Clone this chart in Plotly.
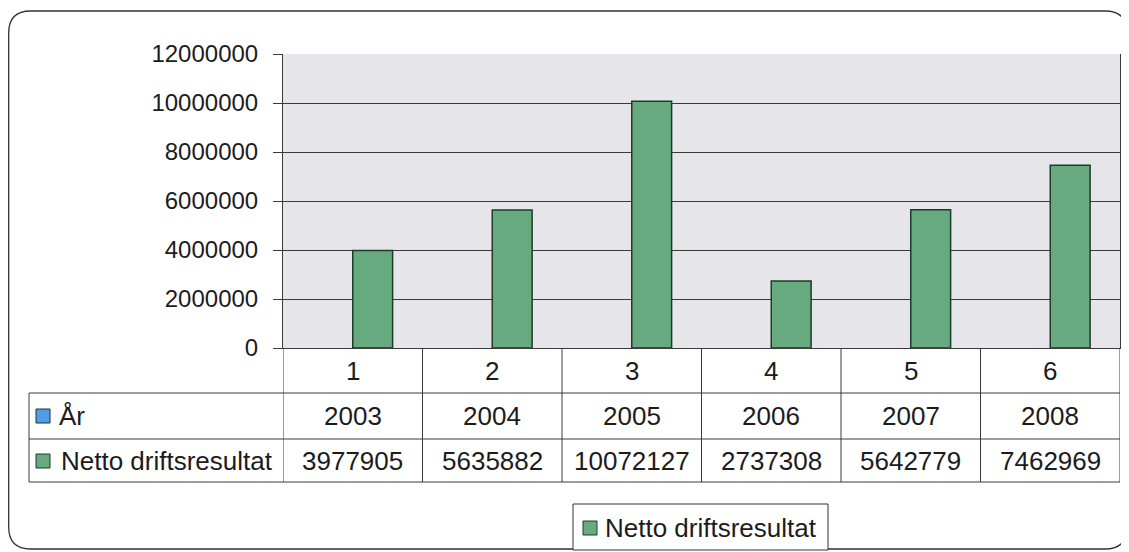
import plotly.graph_objects as go

# ---- data ----
categories = ["1", "2", "3", "4", "5", "6"]
years = [2003, 2004, 2005, 2006, 2007, 2008]
netto = [3977905, 5635882, 10072127, 2737308, 5642779, 7462969]
series_names = ["År", "Netto driftsresultat"]
y_ticks = [0, 2000000, 4000000, 6000000, 8000000, 10000000, 12000000]

# page has an 8px body margin, so the figure is drawn 8px in from the window corner
OFF = 8
W, H = 1129 - OFF, 552 - OFF
L, R, T, B = 283, 1120, 54, 348  # plot area in window pixels


def px(x):
    return (x - L) / (R - L)


def py(y):
    return (B - y) / (B - T)


FONT = "Liberation Sans, Arial, sans-serif"
INK = "#1c1c1c"
LINE = "#3a3a3a"
GREEN = "#67AA80"
GREEN_EDGE = "#1d3a2a"
BLUE = "#4F9FE6"

xs = list(range(1, len(categories) + 1))

fig = go.Figure()
fig.add_trace(go.Bar(x=xs, y=years, name=series_names[0], marker=dict(color=BLUE, line=dict(width=0)),
                     opacity=0, showlegend=False))
fig.add_trace(go.Bar(x=xs, y=netto, name=series_names[1], showlegend=False,
                     marker=dict(color=GREEN, line=dict(color=GREEN_EDGE, width=1.5))))

shapes = []
annotations = []

# outer rounded frame
fl, fr, ft, fb, r = 8.7, 1127, 11, 549, 22


def P(x, y):
    return f"{px(x):.5f},{py(y):.5f}"


path = (f"M {P(fl + r, ft)} L {P(fr - r, ft)} Q {P(fr, ft)} {P(fr, ft + r)} "
        f"L {P(fr, fb - r)} Q {P(fr, fb)} {P(fr - r, fb)} L {P(fl + r, fb)} "
        f"Q {P(fl, fb)} {P(fl, fb - r)} L {P(fl, ft + r)} Q {P(fl, ft)} {P(fl + r, ft)} Z")
shapes.append(dict(type="path", xref="paper", yref="paper", path=path, line=dict(color="#333333", width=1.3),
                   layer="below"))

row_top, row1, row2, row_bot = 348, 393, 439, 482
tbl_left = 29

for yy in (row1, row2, row_bot):
    shapes.append(dict(type="line", xref="paper", yref="paper", x0=px(tbl_left), x1=1, y0=py(yy), y1=py(yy),
                       line=dict(color=LINE, width=1)))
for k in range(len(categories) + 1):
    shapes.append(dict(type="line", xref="x", yref="paper", x0=k + 0.5, x1=k + 0.5, y0=py(row_top), y1=py(row_bot),
                       line=dict(color=LINE, width=1)))
shapes.append(dict(type="line", xref="paper", yref="paper", x0=px(tbl_left), x1=px(tbl_left), y0=py(row1),
                   y1=py(row_bot), line=dict(color=LINE, width=1)))

# legend box
shapes.append(dict(type="rect", xref="paper", yref="paper", x0=px(573), x1=px(828), y0=py(550), y1=py(504),
                   fillcolor="white", line=dict(color="#333333", width=1)))

# colour keys: two in the data table, one in the legend box
for (x0, y0), col, edge in [((36, 409), BLUE, "#1d2f45"), ((36, 454), GREEN, GREEN_EDGE),
                            ((583, 521), GREEN, GREEN_EDGE)]:
    shapes.append(dict(type="rect", xref="paper", yref="paper", x0=px(x0), x1=px(x0 + 14), y0=py(y0 + 14),
                       y1=py(y0), fillcolor=col, line=dict(color=edge, width=1)))

cy0 = (row_top + row1) / 2
cy1 = (row1 + row2) / 2
cy2 = (row2 + row_bot) / 2
tf = dict(size=26, color=INK, family=FONT)
for i, x in enumerate(xs):
    for yy, txt in [(cy0, categories[i]), (cy1, str(years[i])), (cy2, str(netto[i]))]:
        annotations.append(dict(x=x, y=py(yy), xref="x", yref="paper", xanchor="center", yanchor="middle",
                                text=txt, showarrow=False, font=tf))
annotations.append(dict(x=px(57), y=py(cy1), xref="paper", yref="paper", xanchor="left", yanchor="middle",
                        text=series_names[0], showarrow=False, font=tf))
annotations.append(dict(x=px(59), y=py(cy2), xref="paper", yref="paper", xanchor="left", yanchor="middle",
                        text=series_names[1], showarrow=False, font=tf))
annotations.append(dict(x=px(603), y=py(528), xref="paper", yref="paper", xanchor="left", yanchor="middle",
                        text=series_names[1], showarrow=False, font=tf))

fig.update_layout(
    width=W, height=H,
    margin=dict(l=L - OFF, r=(W + OFF) - R, t=T - OFF, b=(H + OFF) - B, pad=0, autoexpand=False),
    paper_bgcolor="white",
    plot_bgcolor="#E6E6EA",
    barmode="group",
    bargap=1.5 / 3.5,
    bargroupgap=0,
    showlegend=False,
    font=dict(family=FONT, color=INK),
    xaxis=dict(range=[0.5, len(categories) + 0.5], showticklabels=False, ticks="", showgrid=False,
               zeroline=False, showline=True, linecolor=LINE, linewidth=1, fixedrange=True),
    yaxis=dict(range=[0, 12000000], tickvals=y_ticks, ticktext=[str(v) for v in y_ticks],
               ticks="outside", ticklen=9, tickcolor=LINE, tickwidth=1, ticklabelstandoff=10,
               tickfont=dict(size=24, color=INK, family=FONT),
               showgrid=True, gridcolor=LINE, gridwidth=1, zeroline=False,
               showline=True, mirror=True, linecolor=LINE, linewidth=1),
    shapes=shapes,
    annotations=annotations,
)

fig.write_html("out.html")
